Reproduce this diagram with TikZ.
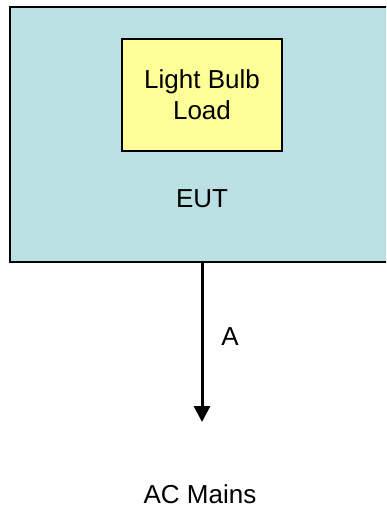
\documentclass[tikz,border=0pt]{standalone}
\usepackage{fontspec}
\setmainfont{Liberation Sans}
\usetikzlibrary{arrows.meta, positioning}
\definecolor{eutblue}{HTML}{BBE0E3}
\definecolor{loadyellow}{HTML}{FFFF99}

\begin{document}
\begin{tikzpicture}[x=1pt, y=1pt, >={Triangle[length=16pt, width=16pt]},
  box/.style={draw=black, line width=1.5pt, inner sep=0pt},
  lbl/.style={font=\fontsize{26}{31}\selectfont, align=center}]

% Page
\useasboundingbox (0,0) rectangle (386,-510);
\clip (0,0) rectangle (386,-510);

% EUT enclosure (runs off the right edge)
\node[box, fill=eutblue, minimum width=384pt, minimum height=255pt] (eut) at (202,-134.5) {};

% Load inside the EUT
\node[box, lbl, fill=loadyellow, minimum width=160pt, minimum height=112pt] (load) at (202,-95) {Light Bulb\\Load};
\node[lbl] (euttext) at (202,-199) {EUT};

% Current to the mains
\coordinate (tip) at (202,-422);
\draw[->, line width=3pt] (eut.south) -- (tip);
\node[lbl] (cur) at (230,-337) {A};

\node[lbl] (mains) at (200,-494) {AC Mains};

\end{tikzpicture}
\end{document}
